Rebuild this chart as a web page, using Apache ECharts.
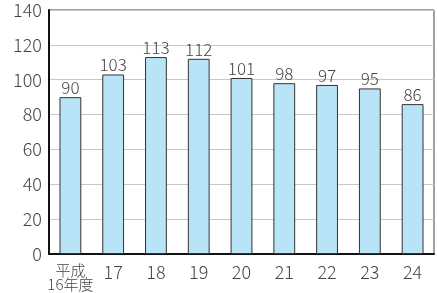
<!DOCTYPE html>
<html>
<head>
<meta charset="utf-8">
<script src="https://cdn.jsdelivr.net/npm/echarts@6/dist/echarts.min.js"></script>
<style>
  html, body { margin: 0; padding: 0; background: #fff; }
  #chart { width: 437px; height: 293px; }
</style>
</head>
<body>
<div id="chart"></div>
<script>
const years = ['平成\n16年度', '17', '18', '19', '20', '21', '22', '23', '24'];
const counts = [90, 103, 113, 112, 101, 98, 97, 95, 86];

const textColor = '#444';
const font = '"Noto Sans CJK JP", "Noto Sans", sans-serif';

const chart = echarts.init(document.getElementById('chart'));
chart.setOption({
    animation: false,
    grid: {
        left: 49, right: 3, top: 10, bottom: 39,
        show: true,
        borderColor: '#444',
        borderWidth: 1
    },
    xAxis: {
        type: 'category',
        data: years,
        axisLine: { lineStyle: { color: '#111', width: 2 } },
        axisTick: { inside: true, length: 4, lineStyle: { color: '#888' } },
        axisLabel: {
            interval: 0,
            color: textColor,
            fontFamily: font,
            fontWeight: 300,
            fontSize: 18,
            margin: 9,
            formatter: v => v.indexOf('\n') >= 0 ? '{s|' + v.split('\n').join('}\n{s|') + '}' : v,
            rich: { s: { fontSize: 15, lineHeight: 14, fontFamily: font, fontWeight: 300, color: textColor } }
        }
    },
    yAxis: {
        type: 'value',
        min: 0,
        max: 140,
        interval: 20,
        axisLine: { show: true, lineStyle: { color: '#111', width: 2 } },
        axisTick: { show: false },
        splitLine: { lineStyle: { color: '#c8c8c8', width: 1 } },
        axisLabel: { color: textColor, fontFamily: font, fontWeight: 300, fontSize: 18, margin: 7 }
    },
    series: [{
        type: 'bar',
        data: counts,
        barWidth: '51%',
        itemStyle: { color: '#b9e3f7', borderColor: '#333', borderWidth: 1 },
        label: {
            show: true,
            position: 'top',
            distance: 1,
            color: textColor,
            fontFamily: font,
            fontWeight: 300,
            fontSize: 17
        }
    }]
});
</script>
</body>
</html>
